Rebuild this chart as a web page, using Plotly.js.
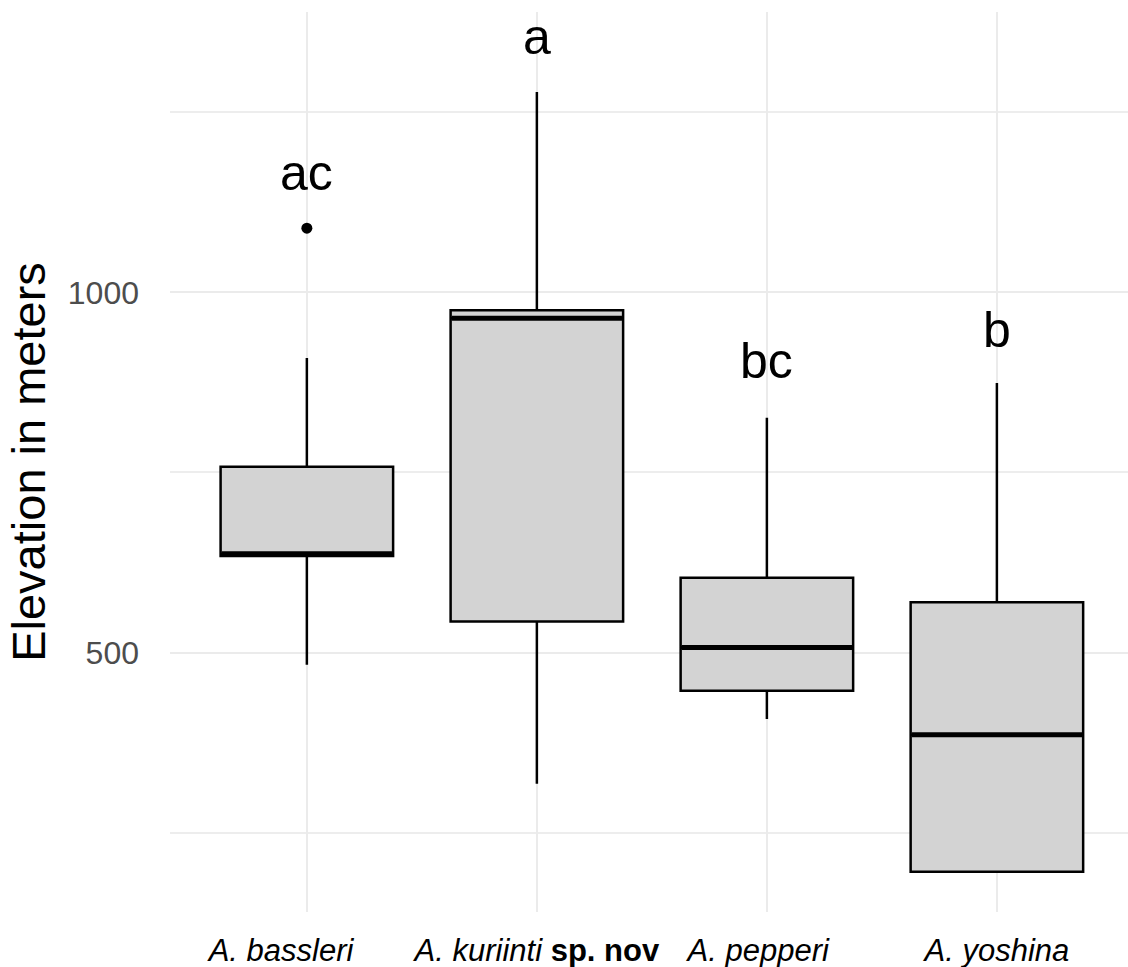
<!DOCTYPE html>
<html>
<head>
<meta charset="utf-8">
<script src="https://cdn.plot.ly/plotly-3.0.1.min.js"></script>
<style>html,body{margin:0;padding:0;background:#fff;}#chart{width:1128px;height:967px;}</style>
</head>
<body>
<div id="chart"></div>
<script>
// Data
const species = ["A. bassleri", "A. kuriinti", "A. pepperi", "A. yoshina"];
const tickLabels = ["<i>A. bassleri</i>\u00a0\u00a0\u00a0\u00a0\u00a0\u00a0", "<i>A. kuriinti</i> <b>sp. nov</b>", "<i>A. pepperi</i>\u00a0\u00a0", "<i>A. yoshina</i>"];
const lowerWhisker = [483, 318, 408, 196];
const q1 = [634, 543, 447, 196];
const median = [637, 964, 507, 386];
const q3 = [758, 975, 604, 570];
const upperWhisker = [909, 1278, 826, 874];
const outlierSpecies = [1];
const outlierValues = [1089];
const letters = ["ac", "a", "bc", "b"];
const letterY = [1166, 1354, 905, 947];

const positions = species.map((s, i) => i + 1);
const boxWidth = 0.75;

const traces = [];
species.forEach((s, i) => {
  traces.push({
    type: "box",
    name: s,
    x: [positions[i]],
    q1: [q1[i]],
    median: [median[i]],
    q3: [q3[i]],
    lowerfence: [lowerWhisker[i]],
    upperfence: [upperWhisker[i]],
    width: boxWidth,
    fillcolor: "#d3d3d3",
    line: {color: "#000000", width: 2.5},
    whiskerwidth: 0,
    boxpoints: false,
    hoverinfo: "skip",
    showlegend: false
  });
});
// thicker median lines (as ggplot)
species.forEach((s, i) => {
  traces.push({
    type: "scatter",
    mode: "lines",
    x: [positions[i] - boxWidth / 2 + 0.005, positions[i] + boxWidth / 2 - 0.005],
    y: [median[i], median[i]],
    line: {color: "#000000", width: 5},
    hoverinfo: "skip",
    showlegend: false
  });
});
// outliers
traces.push({
  type: "scatter",
  mode: "markers",
  x: outlierSpecies.map(k => positions[k - 1]),
  y: outlierValues,
  marker: {color: "#000000", size: 11},
  hoverinfo: "skip",
  showlegend: false
});

const annotations = letters.map((t, i) => ({
  x: positions[i], y: letterY[i], xref: "x", yref: "y",
  text: t, showarrow: false, xanchor: "center", yanchor: "middle",
  font: {family: "Liberation Sans, Arial, sans-serif", size: 50, color: "#000000"}
}));

const layout = {
  width: 1128, height: 967,
  margin: {l: 170, r: 0, t: 12, b: 55},
  paper_bgcolor: "#ffffff", plot_bgcolor: "#ffffff",
  font: {family: "Liberation Sans, Arial, sans-serif"},
  showlegend: false,
  xaxis: {
    range: [0.405, 4.57],
    tickvals: positions, ticktext: tickLabels,
    showgrid: true, gridcolor: "#ebebeb", gridwidth: 2,
    zeroline: false, showline: false, ticks: "",
    tickfont: {size: 31, color: "#000000"},
    ticklabelstandoff: 17
  },
  yaxis: {
    range: [140, 1389],
    tick0: 0, dtick: 500,
    showgrid: true, gridcolor: "#ebebeb", gridwidth: 2,
    minor: {dtick: 250, tick0: 0, showgrid: true, gridcolor: "#ededed", gridwidth: 2},
    zeroline: false, showline: false, ticks: "",
    tickfont: {size: 32, color: "#4d4d4d"},
    ticklabelstandoff: 30,
    title: {text: "Elevation in meters", font: {size: 47, color: "#000000"}, standoff: 7}
  },
  annotations: annotations
};

Plotly.newPlot("chart", traces, layout, {displayModeBar: false, staticPlot: true});
</script>
</body>
</html>
